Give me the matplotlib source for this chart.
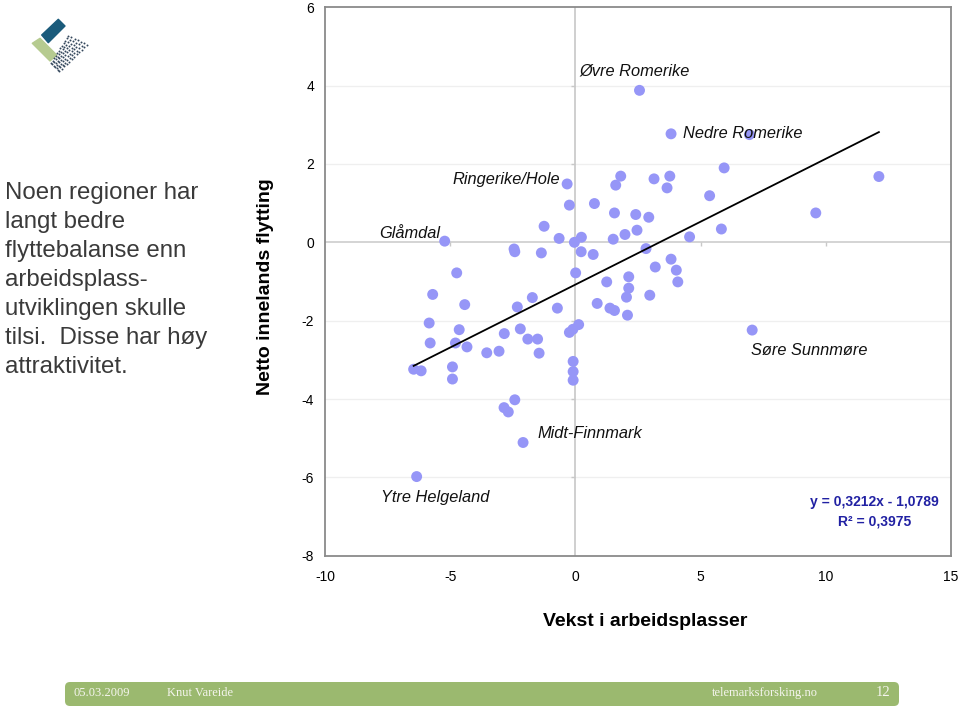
import numpy as np
import matplotlib
matplotlib.use("Agg")
import matplotlib.pyplot as plt
from matplotlib.patches import FancyBboxPatch, Polygon

plt.rcParams['font.family'] = ['Liberation Sans', 'DejaVu Sans']
plt.rcParams['axes.unicode_minus'] = False

# ---------------- data ----------------
x_growth = [-0.33, -0.24, -1.25, -0.65, -0.04, 0.24, 0.23, -5.22, -2.45, -2.42,
            -1.36, -4.74, 0.01, -5.70, -4.42, -1.72, -2.32, -0.72, -5.84, -4.64,
            -5.80, -4.79, -4.33, -2.84, -2.20, -1.90, -1.51, -1.45, -3.54, -3.05,
            -0.24, -0.10, 0.13, -6.46, -6.16, -4.91, -4.91, -0.09, -0.09, -0.09,
            -2.42, -2.85, -2.68, -2.09, 1.81, 1.61, 3.14, 3.77, 3.66, 5.94,
            0.76, 1.56, 2.41, 2.93, 5.36, 5.83, 4.56, 1.51, 1.98, 2.46,
            0.71, 2.82, 3.82, 3.19, 4.03, 4.09, 2.13, 1.25, 2.13, 2.04,
            2.97, 0.87, 1.38, 1.56, 2.08, 2.56, 3.82, 6.95, 12.12, 9.60,
            7.06, -6.34]
y_migration = [1.49, 0.95, 0.41, 0.10, 0.00, 0.13, -0.24, 0.03, -0.17, -0.24,
               -0.27, -0.78, -0.78, -1.33, -1.59, -1.41, -1.65, -1.68, -2.06, -2.23,
               -2.57, -2.57, -2.67, -2.33, -2.21, -2.47, -2.47, -2.83, -2.82, -2.78,
               -2.30, -2.22, -2.10, -3.24, -3.28, -3.18, -3.49, -3.04, -3.30, -3.52,
               -4.02, -4.22, -4.33, -5.11, 1.69, 1.46, 1.62, 1.69, 1.39, 1.90,
               0.99, 0.75, 0.71, 0.64, 1.19, 0.34, 0.14, 0.08, 0.20, 0.31,
               -0.31, -0.16, -0.43, -0.63, -0.71, -1.01, -0.88, -1.01, -1.17, -1.40,
               -1.35, -1.56, -1.68, -1.74, -1.86, 3.88, 2.77, 2.75, 1.68, 0.75,
               -2.24, -5.98]

named_regions = ["Øvre Romerike", "Nedre Romerike", "Ringerike/Hole", "Glåmdal",
                 "Søre Sunnmøre", "Midt-Finnmark", "Ytre Helgeland"]
named_x = [2.56, 3.82, -0.33, -5.22, 7.06, -2.09, -6.34]
named_y = [3.88, 2.77, 1.49, 0.03, -2.24, -5.11, -5.98]

trend_slope = 0.3212
trend_intercept = -1.0789
r_squared = 0.3975

x_ticks = [-10, -5, 0, 5, 10, 15]
y_ticks = [-8, -6, -4, -2, 0, 2, 4, 6]

x_label = "Vekst i arbeidsplasser"
y_label = "Netto innelands flytting"
side_text = ["Noen regioner har", "langt bedre", "flyttebalanse enn",
             "arbeidsplass-", "utviklingen skulle", "tilsi.  Disse har høy",
             "attraktivitet."]

# ---------------- figure ----------------
W, H = 960, 709
fig = plt.figure(figsize=(W / 100, H / 100), dpi=100)
fig.patch.set_facecolor('white')


def fx(px):
    return px / W


def fy(py):
    return 1 - py / H


# background overlay in pixel coordinates
bg = fig.add_axes([0, 0, 1, 1])
bg.set_xlim(0, W)
bg.set_ylim(H, 0)
bg.axis('off')

# logo
bg.add_patch(Polygon([(41.7, 35), (58.3, 19.3), (65, 26), (48.3, 42.7)],
                     closed=True, color='#1b5b7b', joinstyle='round', lw=1))
bg.add_patch(Polygon([(32.3, 43.3), (40, 38.3), (56.7, 55), (50, 61)],
                     closed=True, color='#b6cb90', joinstyle='round', lw=1))
cL = np.array([51.0, 63.0])
cT = np.array([68.3, 35.5])
cR = np.array([87.0, 45.0])
cB = np.array([59.3, 71.0])
pts = []
for i in range(12):
    u = i / 11
    for j in range(7):
        v = j / 6
        p = (1 - u) * (1 - v) * cL + u * (1 - v) * cT + u * v * cR + (1 - u) * v * cB
        pts.append(p)
pts = np.array(pts)
bg.plot(pts[:, 0], pts[:, 1], 'o', ms=1.4, color='#33475c', mew=0)

# side text
for k, line in enumerate(side_text):
    bg.text(5, 199 + 29 * k, line, fontsize=17.3, color='#3a3a3a',
            ha='left', va='baseline')

# footer
bg.add_patch(FancyBboxPatch((65, 682), 834, 24,
                            boxstyle="round,pad=0,rounding_size=5",
                            fc='#9bb96f', ec='none'))
foot_kw = dict(family=['Liberation Serif', 'DejaVu Serif'], color='#f5f5ee',
               va='center', ha='left')
bg.text(74, 693, "05.03.2009", fontsize=9, **foot_kw)
bg.text(167, 693, "Knut Vareide", fontsize=9, **foot_kw)
bg.text(712, 693, "telemarksforsking.no", fontsize=9, **foot_kw)
bg.text(876, 693, "12", fontsize=10.5, **foot_kw)

# axis titles
bg.text(265, 287, y_label, rotation=90, fontsize=14, fontweight='bold',
        ha='center', va='center')
bg.text(645, 622, x_label, fontsize=14, fontweight='bold',
        ha='center', va='center')

# ---------------- main chart ----------------
ax = fig.add_axes([325 / W, (H - 555.7) / H, 626 / W, 548.4 / H])
ax.set_xlim(x_ticks[0], x_ticks[-1])
ax.set_ylim(y_ticks[0], y_ticks[-1])
ax.set_xticks(x_ticks)
ax.set_yticks(y_ticks)
ax.tick_params(length=0, labelsize=10, colors='#000000')
ax.tick_params(axis='x', pad=10)
ax.tick_params(axis='y', pad=8)
for s in ax.spines.values():
    s.set_color('#8a8a8a')
    s.set_linewidth(1.3)

# light gridlines
for yt in y_ticks[1:-1]:
    if yt != 0:
        ax.axhline(yt, color='#efefef', lw=0.9, zorder=0)
# crossing axes
ax.axhline(0, color='#d4d4d4', lw=1.4, zorder=1)
ax.axvline(0, color='#cfcfcf', lw=1.4, zorder=1)
inner_x = [t for t in x_ticks[1:-1] if t != 0]
inner_y = [t for t in y_ticks[1:-1] if t != 0]
ax.plot(inner_x, [0] * len(inner_x), ls='none', marker=3,
        ms=3, color='#c8c8c8', mew=1, zorder=1)
ax.plot([0] * len(inner_y), inner_y, ls='none', marker=0,
        ms=3, color='#c8c8c8', mew=1, zorder=1)

# points
ax.scatter(x_growth, y_migration, s=62, color='#9696f7', edgecolors='none',
           zorder=3)

# trend line
xl = np.linspace(min(x_growth), max(x_growth), 50)
ax.plot(xl, trend_slope * xl + trend_intercept, color='black', lw=1.3, zorder=4)

# region labels
offsets = [(-3.2, 13.9, 'center'), (8.9, 0.5, 'left'), (-4.8, 2.9, 'right'),
           (-3.1, 5.8, 'right'), (-1.2, -14.4, 'left'), (10.3, 6.8, 'left'),
           (13.5, -15.3, 'center')]
for name, xv, yv, (dx, dy, ha) in zip(named_regions, named_x, named_y, offsets):
    ax.annotate(name, xy=(xv, yv), xytext=(dx, dy), textcoords='offset points',
                ha=ha, va='center', fontsize=11.8, fontstyle='italic',
                color='#111111', zorder=5)

# equation (figure text, drawn above axes)
eq_col = '#2121a3'
slope_s = f"{trend_slope:.4f}".replace('.', ',')
icpt_s = f"{abs(trend_intercept):.4f}".replace('.', ',')
fig.text(fx(874.5), fy(502), f"y = {slope_s}x - {icpt_s}", fontsize=10,
         fontweight='bold', color=eq_col, ha='center', va='center')
fig.text(fx(874.5), fy(521), "R² = " + f"{r_squared:.4f}".replace('.', ','),
         fontsize=10, fontweight='bold', color=eq_col, ha='center', va='center')

fig.savefig("out.png", dpi=100)
